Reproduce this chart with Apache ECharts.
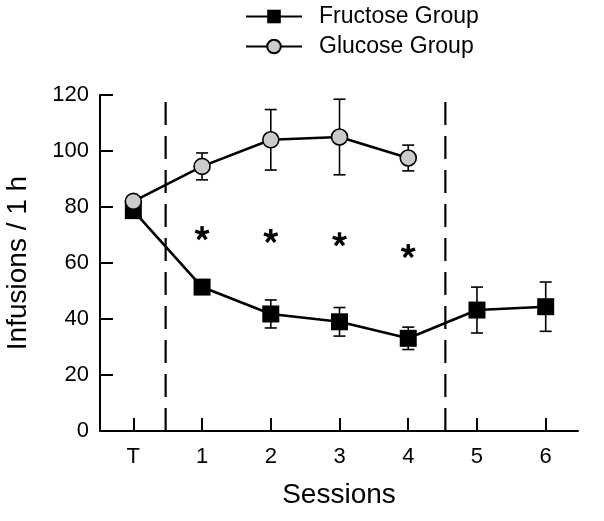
<!DOCTYPE html>
<html><head><meta charset="utf-8">
<script src="https://cdn.jsdelivr.net/npm/echarts@6/dist/echarts.min.js"></script>
<style>html,body{margin:0;padding:0;background:#fff}#c{width:604px;height:521px}</style>
</head><body><div id="c"></div>
<script>
var sessions = [0, 1, 2, 3, 4, 5, 6];
var tickLabels = ['T', '1', '2', '3', '4', '5', '6'];
var fructoseMean = [78.7, 51.4, 41.8, 39.0, 33.1, 43.2, 44.4];
var fructoseSem  = [2.0, 2.5, 5.0, 5.1, 4.0, 8.2, 8.8];
var glucoseSessions = [0, 1, 2, 3, 4];
var glucoseMean = [82.0, 94.5, 104.0, 105.0, 97.5];
var glucoseSem  = [1.5, 4.8, 10.8, 13.5, 4.6];
var starSessions = [1, 2, 3, 4];
var starValues = [70.6, 69.6, 68.4, 64.2];
var dividerSessions = [0.47, 4.54];
var dividerTop = [118.6, 119.6];

var font = 'Liberation Sans, Arial, Helvetica, sans-serif';
function pairs(xs, ys){ return xs.map(function(x,i){ return [x, ys[i]]; }); }
function errData(xs, m, s){ return xs.map(function(x,i){ return [x, m[i]-s[i], m[i]+s[i]]; }); }
function errRender(params, api){
  var x = api.value(0);
  var lo = api.coord([x, api.value(1)]);
  var hi = api.coord([x, api.value(2)]);
  var cw = 6;
  var st = {stroke:'#000', lineWidth:1.6};
  return {type:'group', children:[
    {type:'line', shape:{x1:lo[0],y1:lo[1],x2:hi[0],y2:hi[1]}, style:st},
    {type:'line', shape:{x1:lo[0]-cw,y1:lo[1],x2:lo[0]+cw,y2:lo[1]}, style:st},
    {type:'line', shape:{x1:hi[0]-cw,y1:hi[1],x2:hi[0]+cw,y2:hi[1]}, style:st}
  ]};
}
function starRender(params, api){
  var c = api.coord([api.value(0), api.value(1)]);
  var r = 7.2, kids = [];
  for (var k = 0; k < 5; k++) {
    var a = (-90 + 72*k) * Math.PI/180;
    kids.push({type:'line', shape:{x1:c[0], y1:c[1], x2:c[0]+r*Math.cos(a), y2:c[1]+r*Math.sin(a)},
      style:{stroke:'#000', lineWidth:3.4, lineCap:'butt'}});
  }
  return {type:'group', children:kids};
}
var dividerSeries = dividerSessions.map(function(x,i){
  return {type:'line', data:[[x,0],[x,dividerTop[i]]], symbol:'none', silent:true,
    lineStyle:{color:'#000', width:2.2, type:[23,11]}, z:1};
});

var chart = echarts.init(document.getElementById('c'), null, {renderer:'canvas'});
chart.setOption({
  animation:false,
  backgroundColor:'#fff',
  grid:{left:100, right:26, top:95, bottom:90, containLabel:false, outerBoundsMode:'none'},
  legend:{
    orient:'vertical', left:240, top:0, itemWidth:56, itemHeight:17, itemGap:7,
    data:['Fructose Group','Glucose Group'],
    textStyle:{fontFamily:font, fontSize:23, color:'#000', padding:[0,0,0,12]}
  },
  xAxis:{
    type:'value', min:-0.485, max:6.47,
    axisLine:{onZero:false, lineStyle:{color:'#000', width:2}},
    axisTick:{show:true, inside:true, length:13, lineStyle:{color:'#000', width:2}, customValues:sessions},
    axisLabel:{fontFamily:font, fontSize:22, color:'#000', margin:15, customValues:sessions,
      formatter:function(v){ var i = sessions.indexOf(v); return i>=0 ? tickLabels[i] : ''; }},
    splitLine:{show:false},
    name:'Sessions', nameLocation:'middle', nameGap:50,
    nameTextStyle:{fontFamily:font, fontSize:28, color:'#000'}
  },
  yAxis:{
    type:'value', min:0, max:120, interval:20,
    axisLine:{show:true, onZero:false, lineStyle:{color:'#000', width:2}},
    axisTick:{show:true, inside:true, length:13, lineStyle:{color:'#000', width:2}},
    axisLabel:{fontFamily:font, fontSize:22, color:'#000', margin:11},
    splitLine:{show:false},
    name:'Infusions / 1 h', nameLocation:'middle', nameGap:68,
    nameTextStyle:{fontFamily:font, fontSize:28, color:'#000'}
  },
  series: dividerSeries.concat([
    {type:'custom', name:'fe', renderItem:errRender, data:errData(sessions, fructoseMean, fructoseSem), z:3, silent:true},
    {type:'custom', name:'ge', renderItem:errRender, data:errData(glucoseSessions, glucoseMean, glucoseSem), z:3, silent:true},
    {type:'line', name:'Fructose Group', data:pairs(sessions, fructoseMean),
      symbol:'rect', symbolSize:17, showAllSymbol:true,
      lineStyle:{color:'#000', width:2.6}, itemStyle:{color:'#000', borderColor:'#000', borderWidth:0}, z:4},
    {type:'line', name:'Glucose Group', data:pairs(glucoseSessions, glucoseMean),
      symbol:'circle', symbolSize:16, showAllSymbol:true,
      lineStyle:{color:'#000', width:2.6}, itemStyle:{color:'#cbcbcb', borderColor:'#000', borderWidth:1.6}, z:5},
    {type:'custom', name:'stars', renderItem:starRender, data:pairs(starSessions, starValues), z:6, silent:true}
  ])
});
</script></body></html>
